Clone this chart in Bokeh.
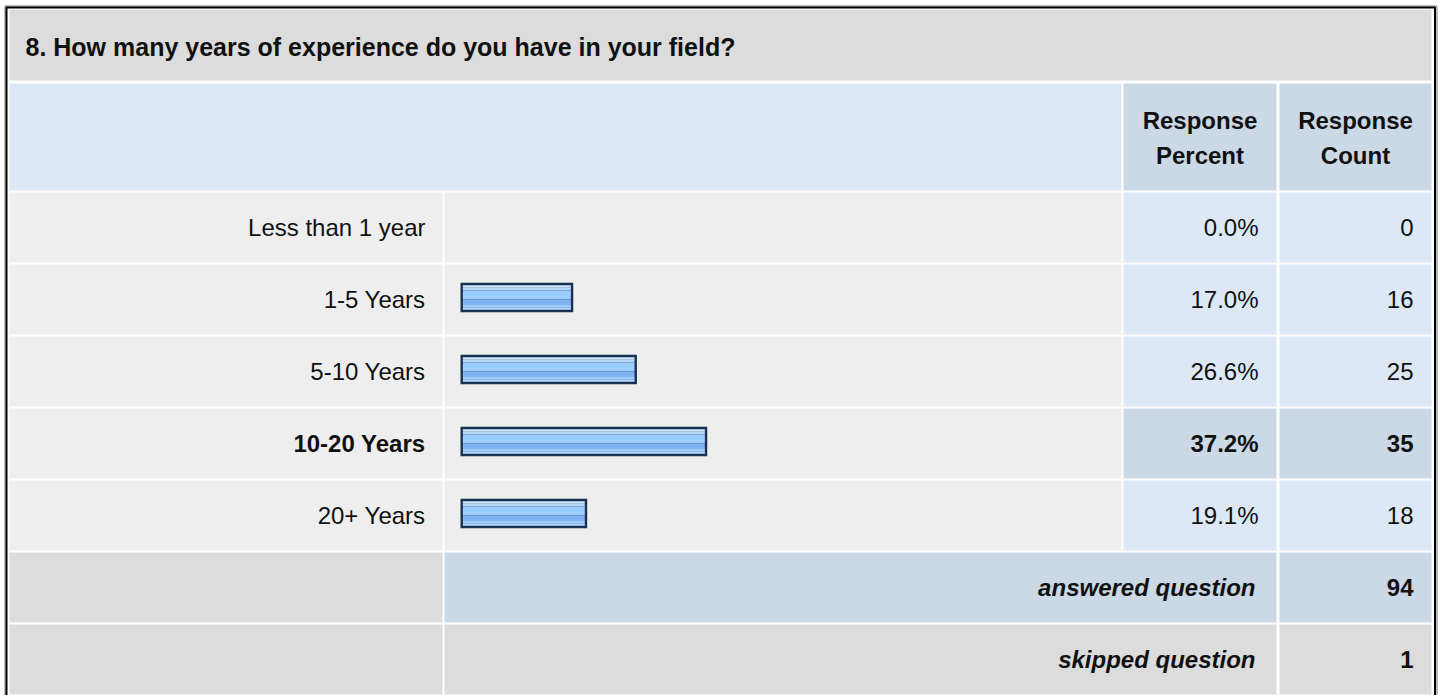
from bokeh.plotting import figure
from bokeh.models import Range1d, ColumnDataSource
from bokeh.core.properties import value
from bokeh.embed import file_html
from bokeh.resources import INLINE

# ---------------- data ----------------
title = "8. How many years of experience do you have in your field?"
categories = ["Less than 1 year", "1-5 Years", "5-10 Years", "10-20 Years", "20+ Years"]
percents = [0.0, 17.0, 26.6, 37.2, 19.1]
counts = [0, 16, 25, 35, 18]
header_percent = ["Response", "Percent"]
header_count = ["Response", "Count"]
summary_labels = ["answered question", "skipped question"]
summary_counts = [94, 1]

# ---------------- layout (pixel space) ----------------
FONT = value("Liberation Sans")
FS = "24px"
TXT = "#111111"
GRAY = "#dcdcdc"
ROWGRAY = "#eeeeee"
LBLUE = "#dce8f5"
MBLUE = "#cbd8e6"

COL_LABEL = (9, 442)
COL_BAR = (444, 1121)
COL_PCT = (1123, 1276)
COL_CNT = (1279, 1431)
TITLE_ROW = (9, 80)
HEADER_ROW = (83, 190)
ROW0, ROW_H, ROW_STEP = 192, 70, 72
PX_PER_PCT = 6.633
BAR_X0 = 460
SHIFT = -8.5   # baseline correction for the svg text layout

def row_span(i):
    t = ROW0 + ROW_STEP * i
    return t, t + ROW_H

def row_center(i):
    t, b = row_span(i)
    return (t + b) / 2

W, H = 1438, 695
XR = (0, W)
YR = (H, 0)

p = figure(width=W, height=H, output_backend="svg", toolbar_location=None,
           x_range=Range1d(*XR), y_range=Range1d(*YR),
           x_axis_location=None, y_axis_location=None, min_border=0,
           background_fill_color="white", border_fill_color="white")
p.grid.visible = False
p.outline_line_color = None
p.extra_x_ranges = {"pct": Range1d((XR[0] - BAR_X0) / PX_PER_PCT, (XR[1] - BAR_X0) / PX_PER_PCT)}

# ---------------- cells ----------------
L, R, T, B, C = [], [], [], [], []
def cell(col_l, col_r, row, color):
    L.append(col_l); R.append(col_r); T.append(row[0]); B.append(row[1]); C.append(color)

cell(COL_LABEL[0], COL_CNT[1], TITLE_ROW, GRAY)
cell(COL_LABEL[0], COL_BAR[1], HEADER_ROW, LBLUE)
cell(COL_PCT[0], COL_PCT[1], HEADER_ROW, MBLUE)
cell(COL_CNT[0], COL_CNT[1], HEADER_ROW, MBLUE)

imax = percents.index(max(percents))
for i in range(len(categories)):
    rs = row_span(i)
    cell(COL_LABEL[0], COL_LABEL[1], rs, ROWGRAY)
    cell(COL_BAR[0], COL_BAR[1], rs, ROWGRAY)
    c = MBLUE if i == imax else LBLUE
    cell(COL_PCT[0], COL_PCT[1], rs, c)
    cell(COL_CNT[0], COL_CNT[1], rs, c)

n = len(categories)
ra = row_span(n)
cell(COL_LABEL[0], COL_LABEL[1], ra, GRAY)
cell(COL_BAR[0], COL_PCT[1], ra, MBLUE)
cell(COL_CNT[0], COL_CNT[1], ra, MBLUE)
rsk = row_span(n + 1)
cell(COL_LABEL[0], COL_LABEL[1], rsk, GRAY)
cell(COL_BAR[0], COL_PCT[1], rsk, GRAY)
cell(COL_CNT[0], COL_CNT[1], rsk, GRAY)

p.quad(left=L, right=R, top=T, bottom=B, fill_color=C, line_color=None)

# outer frame
p.quad(left=[4.5], right=[1436.5], top=[5.5], bottom=[720], fill_color=None,
       line_color="#777777", line_width=1)
p.quad(left=[6], right=[1434.5], top=[7], bottom=[720], fill_color=None,
       line_color="#000000", line_width=2)

# ---------------- bars ----------------
bar_idx = [i for i, v in enumerate(percents) if v > 0]
bar_pct = [percents[i] for i in bar_idx]
bar_cy = [row_center(i) - 2 for i in bar_idx]
HALF = 14.7
BORDER = 2.4
src = ColumnDataSource(dict(pct=bar_pct, cy=bar_cy,
                            top=[c - HALF for c in bar_cy], bottom=[c + HALF for c in bar_cy]))
p.quad(left=0, right="pct", top="top", bottom="bottom", source=src, x_range_name="pct",
       fill_color="#1b3152", line_color=None)

inner_h = 2 * HALF - 2 * BORDER
bands = [(0.0, 0.1, "#cce6ff"), (0.1, 0.22, "#b3d9ff"), (0.22, 0.58, "#9bceff"),
         (0.58, 0.8, "#7fb3f1"), (0.8, 0.9, "#9bceff"), (0.9, 1.0, "#b0d8ff")]
inset = BORDER / PX_PER_PCT
for f0, f1, col in bands:
    top0 = [c - HALF + BORDER + f0 * inner_h for c in bar_cy]
    bot0 = [c - HALF + BORDER + f1 * inner_h for c in bar_cy]
    p.quad(left=inset, right=[v - inset for v in bar_pct], top=top0, bottom=bot0,
           x_range_name="pct", fill_color=col, line_color=None)

# ---------------- texts ----------------
def txt(xs, ys, texts, align, style="normal", size=FS):
    p.text(x=xs, y=[y + SHIFT for y in ys], text=texts, text_align=align,
           text_baseline="alphabetic", text_font=FONT, text_font_size=size,
           text_font_style=style, text_color=TXT)

txt([25], [55], [title], "left", "bold", "25px")

pc = (COL_PCT[0] + COL_PCT[1]) / 2
cc = (COL_CNT[0] + COL_CNT[1]) / 2
txt([pc, pc], [128.5, 163.5], header_percent, "center", "bold")
txt([cc, cc], [128.5, 163.5], header_count, "center", "bold")

BASE_OFF = 8.5
for bold in (False, True):
    idx = [i for i in range(n) if (i == imax) == bold]
    if not idx:
        continue
    ys = [row_center(i) + BASE_OFF for i in idx]
    st = "bold" if bold else "normal"
    txt([425] * len(idx), ys, [categories[i] for i in idx], "right", st)
    txt([1258] * len(idx), ys, [f"{percents[i]:.1f}%" for i in idx], "right", st)
    txt([1413] * len(idx), ys, [str(counts[i]) for i in idx], "right", st)

sy = [row_center(n) + BASE_OFF, row_center(n + 1) + BASE_OFF]
txt([1255, 1255], sy, summary_labels, "right", "bold italic")
txt([1413, 1413], sy, [str(v) for v in summary_counts], "right", "bold")

open("out.html", "w").write(file_html(p, INLINE))
